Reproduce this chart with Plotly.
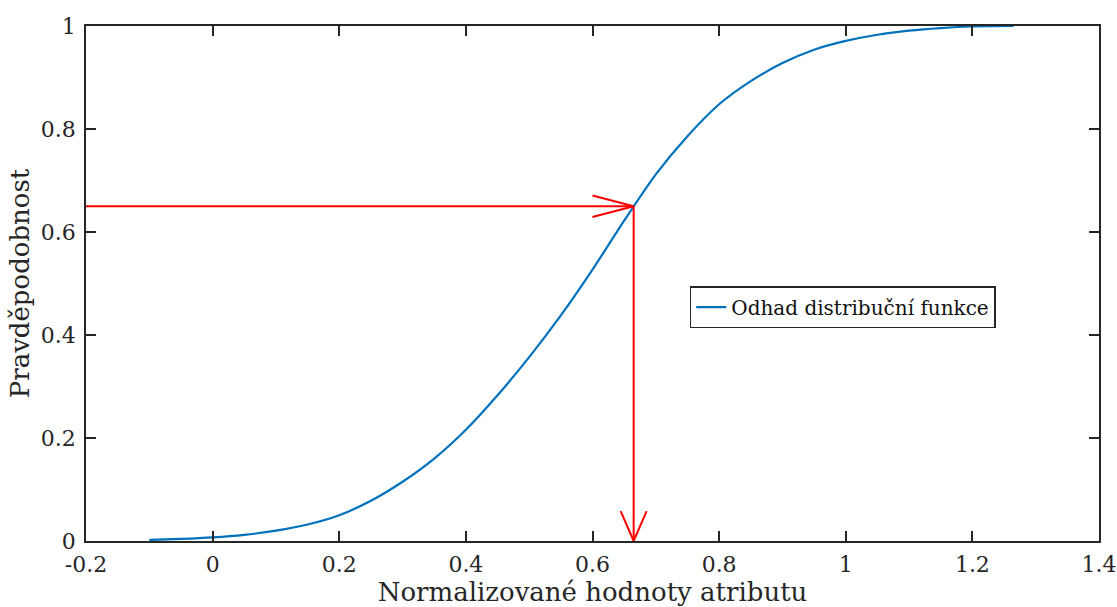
import plotly.graph_objects as go

# Data
cdf_x = [-0.1, -0.05, 0.0, 0.05, 0.1, 0.15, 0.2, 0.25, 0.3, 0.35, 0.4, 0.45, 0.5,
         0.55, 0.6, 0.65, 0.7, 0.75, 0.8, 0.85, 0.9, 0.95, 1.0, 1.05, 1.1, 1.15,
         1.2, 1.265]
cdf_y = [0.002, 0.004, 0.007, 0.012, 0.020, 0.032, 0.050, 0.078, 0.115, 0.160,
         0.216, 0.283, 0.357, 0.438, 0.527, 0.622, 0.712, 0.786, 0.848, 0.893,
         0.928, 0.954, 0.971, 0.983, 0.991, 0.996, 0.999, 1.0]

threshold_x = 0.665
threshold_p = 0.65

x_tickvals = [-0.2, 0, 0.2, 0.4, 0.6, 0.8, 1, 1.2, 1.4]
x_ticktext = ["-0.2", "0", "0.2", "0.4", "0.6", "0.8", "1", "1.2", "1.4"]
y_tickvals = [0, 0.2, 0.4, 0.6, 0.8, 1]
y_ticktext = ["0", "0.2", "0.4", "0.6", "0.8", "1"]

x_range = [-0.2, 1.4]
y_range = [0, 1]

BLUE = "#0072BD"
RED = "#FF0000"
AX = "#262626"
FONT = "DejaVu Serif"

fig = go.Figure()

fig.add_trace(go.Scatter(
    x=cdf_x, y=cdf_y, mode="lines", name="Odhad distribuční funkce",
    line=dict(color=BLUE, width=2.2, shape="spline", smoothing=0.8),
))

# Horizontal arrow (open V head)
hb_dx, hb_dy = 0.065, 0.021
fig.add_trace(go.Scatter(
    x=[x_range[0], threshold_x, None,
       threshold_x - hb_dx, threshold_x, threshold_x - hb_dx],
    y=[threshold_p, threshold_p, None,
       threshold_p + hb_dy, threshold_p, threshold_p - hb_dy],
    mode="lines", line=dict(color=RED, width=2), showlegend=False, hoverinfo="skip",
))

# Vertical arrow (open V head)
vb_dx, vb_dy = 0.0205, 0.058
fig.add_trace(go.Scatter(
    x=[threshold_x, threshold_x, None,
       threshold_x - vb_dx, threshold_x, threshold_x + vb_dx],
    y=[threshold_p, y_range[0], None,
       y_range[0] + vb_dy, y_range[0], y_range[0] + vb_dy],
    mode="lines", line=dict(color=RED, width=2), showlegend=False, hoverinfo="skip",
))

axis_common = dict(
    showline=True, linecolor=AX, linewidth=1.5, mirror="ticks",
    ticks="inside", ticklen=10, tickwidth=1.5, tickcolor=AX,
    showgrid=False, zeroline=False, automargin=False,
    tickfont=dict(family=FONT, size=22, color=AX),
)

fig.update_layout(
    width=1117, height=607,
    margin=dict(l=86, r=18, t=26, b=66),
    paper_bgcolor="white", plot_bgcolor="white",
    font=dict(family=FONT, color=AX),
    xaxis=dict(range=x_range, tickvals=x_tickvals, ticktext=x_ticktext,
               ticklabelstandoff=3,
               title=dict(text="Normalizované hodnoty atributu",
                          font=dict(family=FONT, size=26, color=AX), standoff=5),
               **axis_common),
    yaxis=dict(range=y_range, tickvals=y_tickvals, ticktext=y_ticktext,
               ticklabelstandoff=4,
               title=dict(text="Pravděpodobnost",
                          font=dict(family=FONT, size=26, color=AX), standoff=4),
               **axis_common),
    legend=dict(x=0.596, y=0.454, xanchor="left", yanchor="middle",
                bordercolor=AX, borderwidth=1.5, bgcolor="white",
                font=dict(family=FONT, size=20, color="#111111"),
                itemwidth=30, tracegroupgap=0),
    showlegend=True,
)

fig.write_html(
    "out.html",
    config={"displayModeBar": False},
    post_script="document.body.style.margin='0';document.body.style.overflow='hidden';",
)
